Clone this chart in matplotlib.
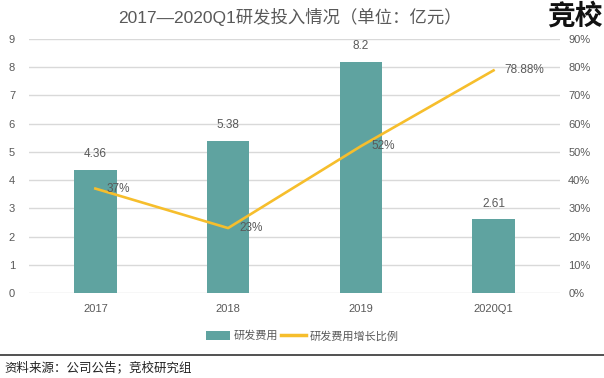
import matplotlib
matplotlib.use('Agg')
import matplotlib.pyplot as plt
from matplotlib.patches import Patch
from matplotlib.lines import Line2D
from matplotlib.ticker import FuncFormatter

plt.rcParams['font.family'] = ['Liberation Sans', 'Noto Sans CJK SC', 'DejaVu Sans']

# data
periods = ['2017', '2018', '2019', '2020Q1']
rd_cost = [4.36, 5.38, 8.2, 2.61]            # 亿元
rd_growth = [37, 23, 52, 78.88]              # %
cost_labels = ['4.36', '5.38', '8.2', '2.61']
growth_labels = ['37%', '23%', '52%', '78.88%']

bar_col = '#5FA3A0'
line_col = '#F6BE2C'
txt_col = '#595959'
grid_col = '#D9D9D9'

fig = plt.figure(figsize=(6.04, 3.78), dpi=100)
ax = fig.add_axes([0.048, 0.2249, 0.879, 0.6719])
x = list(range(len(periods)))

ax.bar(x, rd_cost, width=0.32, color=bar_col, zorder=2)
ax.set_ylim(0, 9)
ax.set_xlim(-0.5, len(periods) - 0.5)
ax.set_yticks(range(0, 10))
ax.yaxis.grid(True, color=grid_col, lw=1)
ax.set_axisbelow(True)
ax.set_xticks(x)
ax.set_xticklabels(periods)
for s in ax.spines.values():
    s.set_visible(False)
ax.tick_params(length=0, colors=txt_col, labelsize=8)
ax.tick_params(axis='x', pad=8)
ax.tick_params(axis='y', pad=10)

for xi, v, lab in zip(x, rd_cost, cost_labels):
    ax.annotate(lab, (xi, v), xytext=(0, 7), textcoords='offset points',
                ha='center', va='bottom', fontsize=8.5, color=txt_col)

ax2 = ax.twinx()
ax2.plot(x, rd_growth, color=line_col, lw=1.9, zorder=3)
ax2.set_ylim(0, 90)
ax2.set_yticks(range(0, 91, 10))
ax2.yaxis.set_major_formatter(FuncFormatter(lambda v, p: f'{int(v)}%'))
for s in ax2.spines.values():
    s.set_visible(False)
ax2.tick_params(length=0, colors=txt_col, labelsize=8, pad=6)
for xi, v, lab in zip(x, rd_growth, growth_labels):
    ax2.annotate(lab, (xi, v), xytext=(8, 0), textcoords='offset points',
                 ha='left', va='center', fontsize=8.5, color=txt_col)

fig.text(0.48, 0.955, '2017—2020Q1研发投入情况（单位：亿元）',
         ha='center', va='center', fontsize=12.5, color=txt_col)
fig.text(0.997, 0.955, '竞校', ha='right', va='center', fontsize=20,
         fontweight='bold', color='#111111', family='Noto Sans CJK SC')

handles = [Patch(facecolor=bar_col, edgecolor='none'),
           Line2D([0], [0], color=line_col, lw=2.5)]
fig.legend(handles, ['研发费用', '研发费用增长比例'], loc='center',
           bbox_to_anchor=(0.5, 0.111), ncol=2, frameon=False, fontsize=8,
           labelcolor=txt_col, handlelength=2.2, handleheight=0.9,
           columnspacing=0.3, handletextpad=0.3)

fig.add_artist(Line2D([0, 1], [0.061, 0.061], transform=fig.transFigure,
                      color='#333333', lw=1.2))
fig.text(0.008, 0.026, '资料来源：公司公告；竞校研究组', ha='left', va='center',
         fontsize=9, color='#222222')

fig.savefig('out.png', dpi=100, facecolor='white')
